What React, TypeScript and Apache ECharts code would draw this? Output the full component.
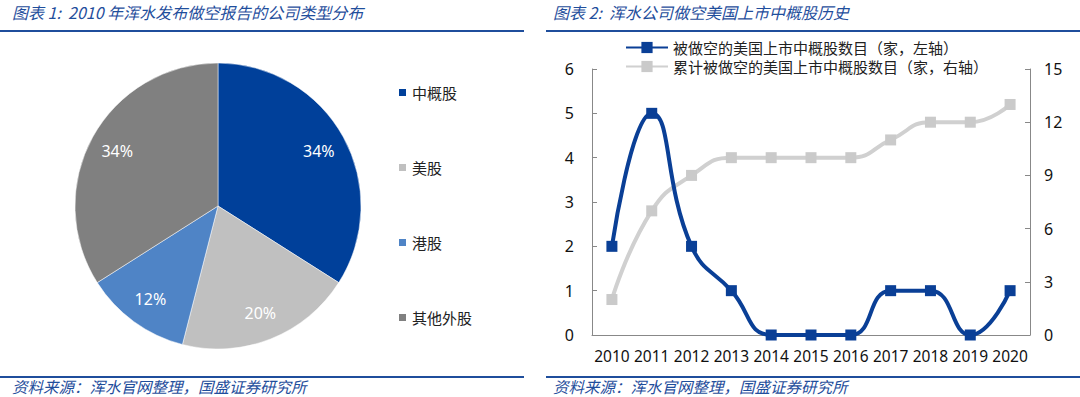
import React, { useEffect, useRef } from "react";
import * as echarts from "echarts";

const pieNames = ["中概股", "美股", "港股", "其他外股"];
const pieValues = [34, 20, 12, 34];
const pieColors = ["#00409A", "#C0C0C0", "#4F84C6", "#808080"];

const years = ["2010", "2011", "2012", "2013", "2014", "2015", "2016", "2017", "2018", "2019", "2020"];
const shortedCount = [2, 5, 2, 1, 0, 0, 0, 1, 1, 0, 1];
const cumulativeCount = [2, 7, 9, 10, 10, 10, 10, 11, 12, 12, 13];
const seriesNames = ["被做空的美国上市中概股数目（家，左轴）", "累计被做空的美国上市中概股数目（家，右轴）"];

const titleLeft = "图表 1:  2010 年浑水发布做空报告的公司类型分布";
const titleRight = "图表 2:  浑水公司做空美国上市中概股历史";
const sourceText = "资料来源：浑水官网整理，国盛证券研究所";

const BLUE_TEXT = "#1F4E9C";
const CJK = "'Noto Sans CJK SC', 'Noto Sans', sans-serif";
const NUM = "'Noto Sans', 'Open Sans', sans-serif";

export default function App() {
  const ref = useRef<HTMLDivElement>(null);
  useEffect(() => {
    if (!ref.current) return;
    const chart = echarts.init(ref.current, null, { renderer: "svg" });
    const pieData = pieNames.map((n, i) => ({ name: n, value: pieValues[i], itemStyle: { color: pieColors[i] } }));
    chart.setOption({
      animation: false,
      backgroundColor: "#fff",
      graphic: [
        { type: "line", shape: { x1: 0, y1: 31, x2: 524, y2: 31 }, style: { stroke: "#1F4E9C", lineWidth: 2 } },
        { type: "line", shape: { x1: 546, y1: 31, x2: 1080, y2: 31 }, style: { stroke: "#1F4E9C", lineWidth: 2 } },
        { type: "line", shape: { x1: 0, y1: 377, x2: 524, y2: 377 }, style: { stroke: "#1F4E9C", lineWidth: 2 } },
        { type: "line", shape: { x1: 546, y1: 377, x2: 1080, y2: 377 }, style: { stroke: "#1F4E9C", lineWidth: 2 } },
        { type: "text", left: 12, top: 4, style: { text: titleLeft, fill: BLUE_TEXT, font: "italic 16px " + CJK } },
        { type: "text", left: 553, top: 4, style: { text: titleRight, fill: BLUE_TEXT, font: "italic 16px " + CJK } },
        { type: "text", left: 12, top: 378, style: { text: sourceText, fill: BLUE_TEXT, font: "italic 15.5px " + CJK } },
        { type: "text", left: 553, top: 378, style: { text: sourceText, fill: BLUE_TEXT, font: "italic 15.5px " + CJK } },
      ],
      legend: [
        {
          data: pieNames,
          orient: "vertical",
          left: 392,
          top: 80,
          itemGap: 60,
          itemWidth: 9,
          itemHeight: 9,
          icon: "rect",
          textStyle: { fontFamily: CJK, fontSize: 15, color: "#222" },
        },
        {
          data: seriesNames,
          orient: "vertical",
          left: 620,
          top: 35,
          itemGap: 4,
          itemWidth: 42,
          itemHeight: 14,
          textStyle: { fontFamily: CJK, fontSize: 15, color: "#222" },
        },
      ],
      grid: { left: 592, right: 50, top: 69, bottom: 62, containLabel: false },
      xAxis: {
        type: "category",
        data: years,
        boundaryGap: true,
        axisLine: { lineStyle: { color: "#888", width: 1 } },
        axisTick: { inside: true, length: 5, lineStyle: { color: "#888" } },
        axisLabel: { color: "#111", fontFamily: NUM, fontSize: 15.5, margin: 13, interval: 0 },
      },
      yAxis: [
        {
          type: "value",
          min: 0,
          max: 6,
          interval: 1,
          axisLine: { show: true, lineStyle: { color: "#888" } },
          axisTick: { show: true, inside: true, length: 5, lineStyle: { color: "#888" } },
          splitLine: { show: false },
          axisLabel: { color: "#111", fontFamily: NUM, fontSize: 16, margin: 18 },
        },
        {
          type: "value",
          min: 0,
          max: 15,
          interval: 3,
          position: "right",
          axisLine: { show: true, lineStyle: { color: "#888" } },
          axisTick: { show: true, inside: true, length: 5, lineStyle: { color: "#888" } },
          splitLine: { show: false },
          axisLabel: { color: "#111", fontFamily: NUM, fontSize: 16, margin: 14 },
        },
      ],
      series: [
        {
          type: "pie",
          name: "pie",
          center: [218, 206],
          radius: [0, 143],
          startAngle: 90,
          clockwise: true,
          data: pieData,
          label: { show: false },
          labelLine: { show: false },
          itemStyle: { borderColor: "#fff", borderWidth: 0.5 },
          emphasis: { disabled: true },
        },
        {
          type: "pie",
          name: "pieLabels",
          center: [218, 206],
          radius: [80, 144],
          startAngle: 90,
          clockwise: true,
          silent: true,
          data: pieNames.map((n, i) => ({ name: n + " ", value: pieValues[i], itemStyle: { color: "rgba(0,0,0,0)" } })),
          label: {
            show: true,
            position: "inside",
            formatter: (p: any) => p.value + "%",
            color: "#fff",
            fontFamily: NUM,
            fontSize: 16,
          },
          labelLine: { show: false },
          emphasis: { disabled: true },
        },
        {
          type: "line",
          name: seriesNames[1],
          yAxisIndex: 1,
          data: cumulativeCount,
          smooth: true,
          symbol: "rect",
          symbolSize: 11,
          lineStyle: { color: "#D0D0D0", width: 4 },
          itemStyle: { color: "#CACACA" },
          z: 2,
        },
        {
          type: "line",
          name: seriesNames[0],
          yAxisIndex: 0,
          data: shortedCount,
          smooth: true,
          symbol: "rect",
          symbolSize: 11,
          lineStyle: { color: "#0A3F96", width: 4 },
          itemStyle: { color: "#0A3F96" },
          z: 3,
        },
      ],
    });
    return () => chart.dispose();
  }, []);
  return <div ref={ref} style={{ position: "absolute", left: 0, top: 0, width: 1080, height: 397 }} />;
}
